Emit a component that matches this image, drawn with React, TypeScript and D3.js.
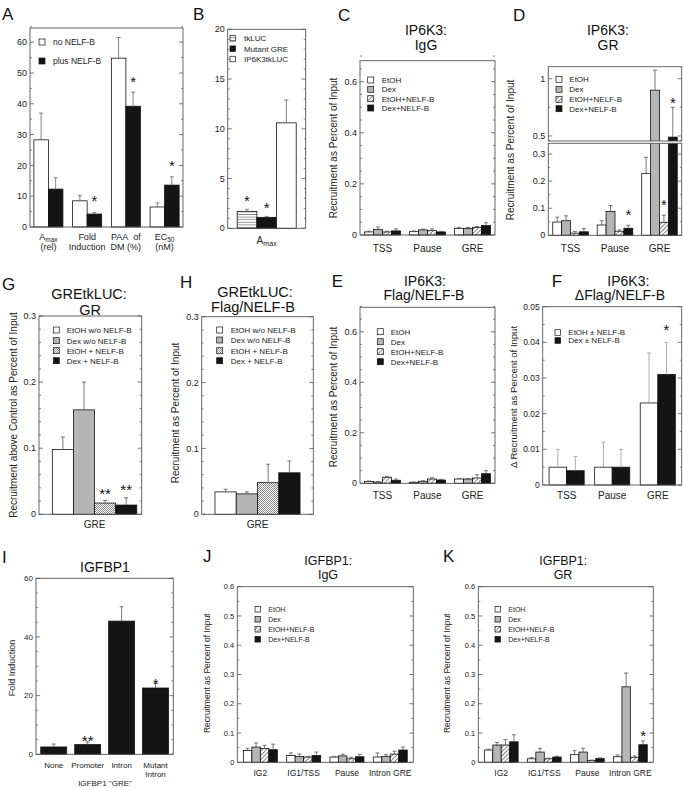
import React from "react";
import * as d3 from "d3";

// ================= DATA =================
// Panel A
const catsA = ["A_max\n(rel)", "Fold\nInduction", "PAA\u00a0\u00a0of\nDM (%)", "EC_50\n(nM)"];
const seriesA = ["no NELF-B", "plus NELF-B"];
const valsA_noNelf = [28.3, 8.5, 54.8, 6.5];
const errA_noNelf = [8.7, 1.7, 6.7, 1.3];
const valsA_plusNelf = [12.3, 4.2, 39.2, 13.6];
const errA_plusNelf = [3.7, 0.5, 4.6, 2.7];
const starA_plusNelf = [null, 9.7, 48.4, 20.9];
const ticksA = [0, 10, 20, 30, 40, 50, 60];

// Panel B
const catsB = ["A_max"];
const seriesB = ["tkLUC", "Mutant GRE", "IP6K3tkLUC"];
const valsB = [1.7, 1.1, 10.6];
const errB = [0.2, 0.1, 2.3];
const starB = [3.1, 2.45, null];
const ticksB = [0, 5, 10, 15, 20];

// Panels C, D, E (IP6K3 ChIP)
const catsIP6K3 = ["TSS", "Pause", "GRE"];
const seriesChIP = ["EtOH", "Dex", "EtOH+NELF-B", "Dex+NELF-B"];
const ticksIP6K3 = [0, 0.2, 0.4, 0.6];

const c_etoh = [0.012, 0.013, 0.026];
const c_etohErr = [0.003, 0.003, 0.003];
const c_dex = [0.022, 0.02, 0.026];
const c_dexErr = [0.009, 0.003, 0.004];
const c_etohN = [0.012, 0.017, 0.029];
const c_etohNErr = [0.003, 0.007, 0.004];
const c_dexN = [0.016, 0.012, 0.037];
const c_dexNErr = [0.008, 0.002, 0.011];

const d_etoh = [0.049, 0.038, 0.228];
const d_etohErr = [0.018, 0.016, 0.06];
const d_dex = [0.054, 0.088, 0.9];
const d_dexErr = [0.018, 0.022, 0.175];
const d_etohN = [0.008, 0.015, 0.048];
const d_etohNErr = [0.006, 0.005, 0.026];
const d_etohNStar = [null, null, 0.124];
const d_dexN = [0.013, 0.026, 0.49];
const d_dexNErr = [0.012, 0.011, 0.26];
const d_dexNStar = [null, 0.087, 0.816];
const ticksD_low = [0, 0.1, 0.2, 0.3];
const ticksD_high = [0.5, 1];

const e_etoh = [0.007, 0.004, 0.017];
const e_etohErr = [0.002, 0.001, 0.002];
const e_dex = [0.005, 0.008, 0.017];
const e_dexErr = [0.002, 0.002, 0.002];
const e_etohN = [0.024, 0.017, 0.021];
const e_etohNErr = [0.003, 0.005, 0.013];
const e_dexN = [0.012, 0.013, 0.038];
const e_dexNErr = [0.005, 0.003, 0.012];

// Panel F
const seriesF = ["EtOH \u00b1 NELF-B", "Dex \u00b1 NELF-B"];
const f_etoh = [0.005, 0.005, 0.023];
const f_etohErr = [0.005, 0.007, 0.014];
const f_dex = [0.004, 0.005, 0.031];
const f_dexErr = [0.004, 0.005, 0.009];
const f_dexStar = [null, null, 0.0444];
const ticksF = [0, 0.01, 0.02, 0.03, 0.04, 0.05];

// Panels G, H (GREtkLUC)
const catsGRE = ["GRE"];
const seriesGRE = ["EtOH w/o NELF-B", "Dex w/o NELF-B", "EtOH + NELF-B", "Dex + NELF-B"];
const g_vals = [0.098, 0.158, 0.017, 0.014];
const g_errs = [0.019, 0.042, 0.004, 0.011];
const g_starAt = [null, null, 0.0368, 0.0418];
const h_vals = [0.034, 0.031, 0.048, 0.063];
const h_errs = [0.004, 0.003, 0.028, 0.018];
const ticksGH = [0, 0.1, 0.2, 0.3];

// Panel I
const catsI = ["None", "Promoter", "Intron", "Mutant\nIntron"];
const i_vals = [2.5, 3.3, 45.4, 22.6];
const i_errs = [1.0, 0.9, 4.9, 1.6];
const i_starText = ["", "**", "", "*"];
const i_starAt = [null, 5.7, null, 25.3];
const ticksI = [0, 20, 40, 60];

// Panels J, K (IGFBP1 ChIP)
const catsIGFBP1 = ["IG2", "IG1/TSS", "Pause", "Intron GRE"];
const ticksJK = [0, 0.1, 0.2, 0.3, 0.4, 0.5, 0.6];
const j_etoh = [0.04, 0.023, 0.018, 0.018];
const j_etohErr = [0.008, 0.009, 0.002, 0.014];
const j_dex = [0.052, 0.02, 0.022, 0.02];
const j_dexErr = [0.014, 0.008, 0.006, 0.006];
const j_etohN = [0.047, 0.018, 0.012, 0.028];
const j_etohNErr = [0.011, 0.002, 0.005, 0.01];
const j_dexN = [0.043, 0.023, 0.019, 0.042];
const j_dexNErr = [0.019, 0.012, 0.008, 0.01];

const k_etoh = [0.042, 0.012, 0.026, 0.019];
const k_etohErr = [0.003, 0.004, 0.014, 0.006];
const k_dex = [0.059, 0.035, 0.035, 0.258];
const k_dexErr = [0.009, 0.013, 0.013, 0.047];
const k_etohN = [0.059, 0.012, 0.006, 0.017];
const k_etohNErr = [0.019, 0.002, 0.002, 0.005];
const k_dexN = [0.07, 0.018, 0.013, 0.06];
const k_dexNErr = [0.024, 0.003, 0.002, 0.013];
const k_dexNStar = [null, null, null, 0.101];

// ================= STYLE / LAYOUT =================
const WHITE = "#ffffff";
const GRAY = "#b5b5b5";
const BLACK = "#141414";
const DIAG = "url(#diag)";
const STIP = "url(#stipple)";
const HLINE = "url(#hlines)";
const FRAME = "#555";

type Series = {
  name: string;
  fill: string;
  values: number[];
  errs: number[];
  starAt?: (number | null)[];
  starText?: string[];
};
type Seg = { domain: [number, number]; top: number; bottom: number; majors: number[]; minors: number[] };
type TextLine = { t: string; x: number; y: number };
type Panel = {
  id: string;
  letter: TextLine;
  x0: number;
  x1: number;
  segs: Seg[];
  cats: string[];
  padIn: number;
  padOut: number;
  align: number;
  series: Series[];
  legend?: { x: number; ys: number[]; size: number; tx: number; fs: number };
  title?: TextLine[];
  titleFs?: number;
  ylabel?: { t: string; cx: number; cy: number; fs: number };
  tickFs: number;
  xFs: number;
  xY: number;
  xLH: number;
  errColor: string;
  starFs: number;
  extra?: (TextLine & { fs: number })[];
};

function minorTicks(lo: number, hi: number, step: number, majors: number[]) {
  return d3
    .range(lo, hi + step / 2, step)
    .map((v) => +v.toFixed(6))
    .filter((v) => !majors.some((m) => Math.abs(m - v) < 1e-9));
}

const fmt = (v: number) => (v === 0 ? "0" : String(v));

const chipSeries = (names: string[], fills: string[], vals: number[][], errs: number[][], stars: ((number | null)[] | undefined)[] = []) =>
  names.map((n, i) => ({ name: n, fill: fills[i], values: vals[i], errs: errs[i], starAt: stars[i] }));

const chipFills = [WHITE, GRAY, DIAG, BLACK];

const panels: Panel[] = [
  {
    id: "A",
    letter: { t: "A", x: 2, y: 20 },
    x0: 30,
    x1: 183,
    segs: [{ domain: [0, 64.6], top: 28, bottom: 227, majors: ticksA, minors: minorTicks(0, 64, 5, ticksA) }],
    cats: catsA,
    padIn: 0.25,
    padOut: 0.1,
    align: 0.5,
    series: [
      { name: seriesA[0], fill: WHITE, values: valsA_noNelf, errs: errA_noNelf },
      { name: seriesA[1], fill: BLACK, values: valsA_plusNelf, errs: errA_plusNelf, starAt: starA_plusNelf },
    ],
    legend: { x: 39, ys: [42, 61], size: 6, tx: 53, fs: 8.5 },
    tickFs: 9,
    xFs: 9,
    xY: 240,
    xLH: 9.5,
    errColor: "#666",
    starFs: 15,
  },
  {
    id: "B",
    letter: { t: "B", x: 193, y: 20 },
    x0: 227.7,
    x1: 305.7,
    segs: [{ domain: [0, 20], top: 29.3, bottom: 228.3, majors: ticksB, minors: minorTicks(0, 20, 1, ticksB) }],
    cats: catsB,
    padIn: 0,
    padOut: 0.161,
    align: 0.5,
    series: seriesB.map((n, i) => ({
      name: n,
      fill: [HLINE, BLACK, WHITE][i],
      values: [valsB[i]],
      errs: [errB[i]],
      starAt: [starB[i]],
    })),
    legend: { x: 230, ys: [38.3, 48.7, 59], size: 5.5, tx: 244, fs: 8 },
    tickFs: 9,
    xFs: 10,
    xY: 244,
    xLH: 9,
    errColor: "#666",
    starFs: 15,
  },
  {
    id: "C",
    letter: { t: "C", x: 338, y: 21 },
    x0: 360,
    x1: 495,
    segs: [{ domain: [0, 0.682], top: 60.7, bottom: 235, majors: ticksIP6K3, minors: minorTicks(0, 0.68, 0.05, ticksIP6K3) }],
    cats: catsIP6K3,
    padIn: 0.2,
    padOut: 0.1,
    align: 0.5,
    series: chipSeries(seriesChIP, chipFills, [c_etoh, c_dex, c_etohN, c_dexN], [c_etohErr, c_dexErr, c_etohNErr, c_dexNErr]),
    legend: { x: 367.7, ys: [80, 89.3, 98.7, 108], size: 6, tx: 381.7, fs: 8 },
    title: [
      { t: "IP6K3:", x: 426, y: 35 },
      { t: "IgG", x: 426, y: 49.5 },
    ],
    titleFs: 14,
    ylabel: { t: "Recruitment as Percent of Input", cx: 333, cy: 148, fs: 10 },
    tickFs: 9,
    xFs: 10,
    xY: 252,
    xLH: 9,
    errColor: "#555",
    starFs: 15,
  },
  {
    id: "D",
    letter: { t: "D", x: 513, y: 21 },
    x0: 548.3,
    x1: 681.7,
    segs: [
      { domain: [0, 0.34], top: 143.3, bottom: 235.3, majors: ticksD_low, minors: minorTicks(0, 0.34, 0.05, ticksD_low) },
      { domain: [0.456, 1.105], top: 66.7, bottom: 141, majors: ticksD_high, minors: [0.75] },
    ],
    cats: catsIP6K3,
    padIn: 0.2,
    padOut: 0.1,
    align: 0.5,
    series: chipSeries(
      seriesChIP,
      chipFills,
      [d_etoh, d_dex, d_etohN, d_dexN],
      [d_etohErr, d_dexErr, d_etohNErr, d_dexNErr],
      [undefined, undefined, d_etohNStar, d_dexNStar]
    ),
    legend: { x: 556, ys: [79.3, 89.3, 99.3, 108.7], size: 6, tx: 569.3, fs: 8 },
    title: [
      { t: "IP6K3:", x: 608, y: 35 },
      { t: "GR", x: 608, y: 49.5 },
    ],
    titleFs: 14,
    ylabel: { t: "Recruitment as Percent of Input", cx: 510, cy: 150, fs: 10 },
    tickFs: 9,
    xFs: 10,
    xY: 252,
    xLH: 9,
    errColor: "#555",
    starFs: 15,
  },
  {
    id: "G",
    letter: { t: "G", x: 2, y: 290 },
    x0: 39,
    x1: 141.7,
    segs: [{ domain: [0, 0.3], top: 316, bottom: 514.3, majors: ticksGH, minors: minorTicks(0, 0.3, 0.02, ticksGH) }],
    cats: catsGRE,
    padIn: 0,
    padOut: 0.108,
    align: 0.73,
    series: seriesGRE.map((n, i) => ({
      name: n,
      fill: [WHITE, GRAY, STIP, BLACK][i],
      values: [g_vals[i]],
      errs: [g_errs[i]],
      starAt: [g_starAt[i]],
      starText: ["**"],
    })),
    legend: { x: 53.3, ys: [330, 340.7, 350.7, 360.7], size: 6, tx: 66.7, fs: 8 },
    title: [
      { t: "GREtkLUC:", x: 89, y: 299.3 },
      { t: "GR", x: 90, y: 314.5 },
    ],
    titleFs: 14.5,
    ylabel: { t: "Recruitment above Control as Percent of Input", cx: 13.3, cy: 415, fs: 10 },
    tickFs: 9,
    xFs: 10,
    xY: 528,
    xLH: 9,
    errColor: "#555",
    starFs: 15,
  },
  {
    id: "H",
    letter: { t: "H", x: 180, y: 288 },
    x0: 201.7,
    x1: 313.3,
    segs: [{ domain: [0, 0.3], top: 316.7, bottom: 514.3, majors: ticksGH, minors: minorTicks(0, 0.3, 0.02, ticksGH) }],
    cats: catsGRE,
    padIn: 0,
    padOut: 0.156,
    align: 0.5,
    series: seriesGRE.map((n, i) => ({
      name: n,
      fill: [WHITE, GRAY, STIP, BLACK][i],
      values: [h_vals[i]],
      errs: [h_errs[i]],
    })),
    legend: { x: 216.7, ys: [330, 340, 350.7, 360.7], size: 6, tx: 230.7, fs: 8 },
    title: [
      { t: "GREtkLUC:", x: 255, y: 297 },
      { t: "Flag/NELF-B", x: 253, y: 312 },
    ],
    titleFs: 14.5,
    ylabel: { t: "Recruitment as Percent of Input", cx: 175, cy: 413, fs: 10 },
    tickFs: 9,
    xFs: 10,
    xY: 528,
    xLH: 9,
    errColor: "#555",
    starFs: 15,
  },
  {
    id: "E",
    letter: { t: "E", x: 331.7, y: 286.7 },
    x0: 360,
    x1: 495,
    segs: [{ domain: [0, 0.697], top: 307.3, bottom: 483.3, majors: ticksIP6K3, minors: minorTicks(0, 0.69, 0.05, ticksIP6K3) }],
    cats: catsIP6K3,
    padIn: 0.2,
    padOut: 0.1,
    align: 0.5,
    series: chipSeries(seriesChIP, chipFills, [e_etoh, e_dex, e_etohN, e_dexN], [e_etohErr, e_dexErr, e_etohNErr, e_dexNErr]),
    legend: { x: 377.3, ys: [331.7, 341.7, 351.7, 361.7], size: 6, tx: 390.7, fs: 8 },
    title: [
      { t: "IP6K3:", x: 425, y: 285.6 },
      { t: "Flag/NELF-B", x: 424, y: 300.3 },
    ],
    titleFs: 14,
    ylabel: { t: "Recruitment as Percent of Input", cx: 333, cy: 397, fs: 10 },
    tickFs: 9,
    xFs: 10,
    xY: 499,
    xLH: 9,
    errColor: "#555",
    starFs: 15,
  },
  {
    id: "F",
    letter: { t: "F", x: 551.7, y: 286.7 },
    x0: 542.7,
    x1: 681.7,
    segs: [{ domain: [0, 0.05], top: 306.7, bottom: 485, majors: ticksF, minors: minorTicks(0, 0.05, 0.005, ticksF) }],
    cats: catsIP6K3,
    padIn: 0.23,
    padOut: 0.14,
    align: 0.5,
    series: [
      { name: seriesF[0], fill: WHITE, values: f_etoh, errs: f_etohErr },
      { name: seriesF[1], fill: BLACK, values: f_dex, errs: f_dexErr, starAt: f_dexStar },
    ],
    legend: { x: 555, ys: [332.5, 340.5], size: 5.6, tx: 568.3, fs: 8 },
    title: [
      { t: "IP6K3:", x: 628.3, y: 285.6 },
      { t: "\u0394Flag/NELF-B", x: 620, y: 300.3 },
    ],
    titleFs: 14,
    ylabel: { t: "\u0394 Recruitment as Percent of Input", cx: 513.3, cy: 397, fs: 9.5 },
    tickFs: 8.5,
    xFs: 10,
    xY: 499,
    xLH: 9,
    errColor: "#999",
    starFs: 15,
  },
  {
    id: "I",
    letter: { t: "I", x: 2, y: 563 },
    x0: 36,
    x1: 173.3,
    segs: [{ domain: [0, 60], top: 578.3, bottom: 754.3, majors: ticksI, minors: minorTicks(0, 60, 5, ticksI) }],
    cats: catsI,
    padIn: 0.235,
    padOut: 0.14,
    align: 0.5,
    series: [{ name: "Fold Induction", fill: BLACK, values: i_vals, errs: i_errs, starAt: i_starAt, starText: i_starText }],
    title: [{ t: "IGFBP1", x: 105, y: 571.7 }],
    titleFs: 14,
    ylabel: { t: "Fold Induction", cx: 11.7, cy: 668, fs: 9 },
    tickFs: 8,
    xFs: 8,
    xY: 768,
    xLH: 9,
    errColor: "#555",
    starFs: 15,
    extra: [{ t: "IGFBP1 \"GRE\"", x: 105, y: 786, fs: 8 }],
  },
  {
    id: "J",
    letter: { t: "J", x: 203, y: 562 },
    x0: 237.3,
    x1: 413.3,
    segs: [{ domain: [0, 0.6], top: 586.7, bottom: 762.3, majors: ticksJK, minors: minorTicks(0, 0.6, 0.05, ticksJK) }],
    cats: catsIGFBP1,
    padIn: 0.215,
    padOut: 0.14,
    align: 0.5,
    series: chipSeries(seriesChIP, chipFills, [j_etoh, j_dex, j_etohN, j_dexN], [j_etohErr, j_dexErr, j_etohNErr, j_dexNErr]),
    legend: { x: 255, ys: [609.3, 619.3, 629.3, 639.3], size: 5.5, tx: 268.3, fs: 7 },
    title: [
      { t: "IGFBP1:", x: 328.3, y: 565 },
      { t: "IgG", x: 328, y: 579 },
    ],
    titleFs: 12.5,
    ylabel: { t: "Recruitment as Percent of Input", cx: 206.7, cy: 673.3, fs: 8.5 },
    tickFs: 7.5,
    xFs: 8.5,
    xY: 776,
    xLH: 9,
    errColor: "#555",
    starFs: 15,
  },
  {
    id: "K",
    letter: { t: "K", x: 443, y: 562 },
    x0: 478.3,
    x1: 653.3,
    segs: [{ domain: [0, 0.6], top: 586.7, bottom: 762.3, majors: ticksJK, minors: minorTicks(0, 0.6, 0.05, ticksJK) }],
    cats: catsIGFBP1,
    padIn: 0.215,
    padOut: 0.14,
    align: 0.5,
    series: chipSeries(
      seriesChIP,
      chipFills,
      [k_etoh, k_dex, k_etohN, k_dexN],
      [k_etohErr, k_dexErr, k_etohNErr, k_dexNErr],
      [undefined, undefined, undefined, k_dexNStar]
    ),
    legend: { x: 495, ys: [609.3, 619.3, 629.3, 639.3], size: 5.5, tx: 508.3, fs: 7 },
    title: [
      { t: "IGFBP1:", x: 563.3, y: 565 },
      { t: "GR", x: 563, y: 579 },
    ],
    titleFs: 12.5,
    ylabel: { t: "Recruitment as Percent of Input", cx: 446.7, cy: 673.3, fs: 8.5 },
    tickFs: 7.5,
    xFs: 8.5,
    xY: 776,
    xLH: 9,
    errColor: "#555",
    starFs: 15,
  },
];

// ================= RENDERING =================
function Rich({ s, fs }: { s: string; fs: number }) {
  const parts = s.split(/_(\w+)/);
  const out: React.ReactNode[] = [];
  let shifted = false;
  const sh = fs * 0.22;
  parts.forEach((t, i) => {
    if (t === "") return;
    if (i % 2 === 1) {
      out.push(
        <tspan key={i} fontSize={fs * 0.72} dy={sh}>
          {t}
        </tspan>
      );
      shifted = true;
    } else {
      out.push(
        <tspan key={i} dy={shifted ? -sh : 0}>
          {t}
        </tspan>
      );
      shifted = false;
    }
  });
  return <>{out}</>;
}

function BarPanel({ p }: { p: Panel }) {
  const xb = d3
    .scaleBand<string>()
    .domain(p.cats)
    .range([p.x0, p.x1])
    .paddingInner(p.padIn)
    .paddingOuter(p.padOut)
    .align(p.align);
  const xs = d3
    .scaleBand<number>()
    .domain(d3.range(p.series.length))
    .range([0, xb.bandwidth()]);
  const segs = p.segs.map((s) => ({ ...s, y: d3.scaleLinear().domain(s.domain).range([s.bottom, s.top]) }));
  const yOf = (v: number) => (segs.find((s) => v <= s.domain[1]) ?? segs[segs.length - 1]).y(v);
  const multi = segs.length > 1;
  const W = p.x1 - p.x0;
  const barX = (si: number, c: string) => (xb(c) ?? 0) + (xs(si) ?? 0);

  return (
    <g>
      {multi && (
        <defs>
          {segs.map((s, i) => (
            <clipPath key={i} id={`clip-${p.id}-${i}`}>
              <rect x={p.x0 - 2} y={s.top} width={W + 4} height={s.bottom - s.top + (i === 0 ? 2 : 0)} />
            </clipPath>
          ))}
        </defs>
      )}
      {/* bars */}
      {segs.map((s, i) => (
        <g key={`bars${i}`} clipPath={multi ? `url(#clip-${p.id}-${i})` : undefined}>
          {p.series.map((ser, si) =>
            p.cats.map((c, ci) => {
              const v = ser.values[ci];
              const base = i === 0 ? 0 : s.domain[0];
              if (v <= base) return null;
              const yT = s.y(v);
              const yB = i === 0 ? s.y(0) : s.bottom + 4;
              return (
                <rect
                  key={`${si}-${ci}`}
                  x={barX(si, c)}
                  y={yT}
                  width={xs.bandwidth()}
                  height={Math.max(0, yB - yT)}
                  fill={ser.fill}
                  stroke="#111"
                  strokeWidth={0.8}
                />
              );
            })
          )}
        </g>
      ))}
      {/* error bars */}
      {p.series.map((ser, si) =>
        p.cats.map((c, ci) => {
          const e = ser.errs[ci];
          if (!e) return null;
          const v = ser.values[ci];
          const cx = barX(si, c) + xs.bandwidth() / 2;
          const y1 = yOf(v);
          const y2 = yOf(v + e);
          return (
            <g key={`e${si}-${ci}`} stroke={p.errColor} strokeWidth={0.8}>
              <line x1={cx} x2={cx} y1={y1} y2={y2} />
              <line x1={cx - 2} x2={cx + 2} y1={y2} y2={y2} />
            </g>
          );
        })
      )}
      {/* significance stars */}
      {p.series.map((ser, si) =>
        p.cats.map((c, ci) => {
          const at = ser.starAt?.[ci];
          if (at == null) return null;
          const cx = barX(si, c) + xs.bandwidth() / 2;
          const txt = ser.starText?.[ci] || "*";
          return (
            <text key={`s${si}-${ci}`} x={cx} y={yOf(at) + p.starFs * 0.58} textAnchor="middle" fontSize={p.starFs} fill="#111">
              {txt}
            </text>
          );
        })
      )}
      {/* frames and ticks */}
      {segs.map((s, i) => (
        <g key={`f${i}`}>
          <rect x={p.x0} y={s.top} width={W} height={s.bottom - s.top} fill="none" stroke={FRAME} strokeWidth={0.9} />
          {s.majors.map((t) => {
            const y = s.y(t);
            return (
              <g key={`M${t}`}>
                <line x1={p.x0} x2={p.x0 + 4} y1={y} y2={y} stroke={FRAME} strokeWidth={0.8} />
                <line x1={p.x1} x2={p.x1 - 4} y1={y} y2={y} stroke={FRAME} strokeWidth={0.8} />
                <text x={p.x0 - 3} y={y} dy="0.35em" textAnchor="end" fontSize={p.tickFs} fill="#222">
                  {fmt(t)}
                </text>
              </g>
            );
          })}
          {s.minors.map((t) => {
            const y = s.y(t);
            return (
              <g key={`m${t}`} stroke={FRAME} strokeWidth={0.7}>
                <line x1={p.x0} x2={p.x0 + 2} y1={y} y2={y} />
                <line x1={p.x1} x2={p.x1 - 2} y1={y} y2={y} />
              </g>
            );
          })}
        </g>
      ))}
      {/* legend */}
      {p.legend &&
        p.series.map((ser, si) => {
          const L = p.legend!;
          return (
            <g key={`l${si}`}>
              <rect x={L.x} y={L.ys[si] - L.size / 2} width={L.size} height={L.size} fill={ser.fill} stroke="#111" strokeWidth={0.7} />
              <text x={L.tx} y={L.ys[si]} dy="0.35em" fontSize={L.fs} fill="#222">
                {ser.name}
              </text>
            </g>
          );
        })}
      {/* category labels */}
      {p.cats.map((c) => {
        const cx = (xb(c) ?? 0) + xb.bandwidth() / 2;
        return c.split("\n").map((line, li) => (
          <text key={`${c}-${li}`} x={cx} y={p.xY + li * p.xLH} textAnchor="middle" fontSize={p.xFs} fill="#222">
            <Rich s={line} fs={p.xFs} />
          </text>
        ));
      })}
      {/* title */}
      {p.title?.map((t, i) => (
        <text key={`t${i}`} x={t.x} y={t.y} textAnchor="middle" fontSize={p.titleFs} fill="#111">
          {t.t}
        </text>
      ))}
      {/* y label */}
      {p.ylabel && (
        <text
          transform={`translate(${p.ylabel.cx},${p.ylabel.cy}) rotate(-90)`}
          textAnchor="middle"
          dominantBaseline="central"
          fontSize={p.ylabel.fs}
          fill="#222"
        >
          {p.ylabel.t}
        </text>
      )}
      {p.extra?.map((t, i) => (
        <text key={`x${i}`} x={t.x} y={t.y} textAnchor="middle" fontSize={t.fs} fill="#222">
          {t.t}
        </text>
      ))}
      <text x={p.letter.x} y={p.letter.y} fontSize={17} fill="#111">
        {p.letter.t}
      </text>
    </g>
  );
}

export default function App() {
  return (
    <svg
      width={683}
      height={788}
      viewBox="0 0 683 788"
      style={{ position: "absolute", left: 0, top: 0, background: "#fff" }}
      fontFamily="'Liberation Sans', Arial, Helvetica, sans-serif"
    >
      <defs>
        <pattern id="diag" patternUnits="userSpaceOnUse" width={3} height={3} patternTransform="rotate(45)">
          <rect width={3} height={3} fill="#fff" />
          <line x1={1.5} y1={0} x2={1.5} y2={3} stroke="#777" strokeWidth={0.9} />
        </pattern>
        <pattern id="stipple" patternUnits="userSpaceOnUse" width={2} height={2}>
          <rect width={2} height={2} fill="#fff" />
          <rect x={0} y={0} width={1} height={1} fill="#8a8a8a" />
          <rect x={1} y={1} width={1} height={1} fill="#8a8a8a" />
        </pattern>
        <pattern id="hlines" patternUnits="userSpaceOnUse" width={4} height={2.6}>
          <rect width={4} height={2.6} fill="#fff" />
          <line x1={0} y1={1.3} x2={4} y2={1.3} stroke="#777" strokeWidth={0.8} />
        </pattern>
      </defs>
      <rect width={683} height={788} fill="#fff" />
      {panels.map((p) => (
        <BarPanel key={p.id} p={p} />
      ))}
    </svg>
  );
}
